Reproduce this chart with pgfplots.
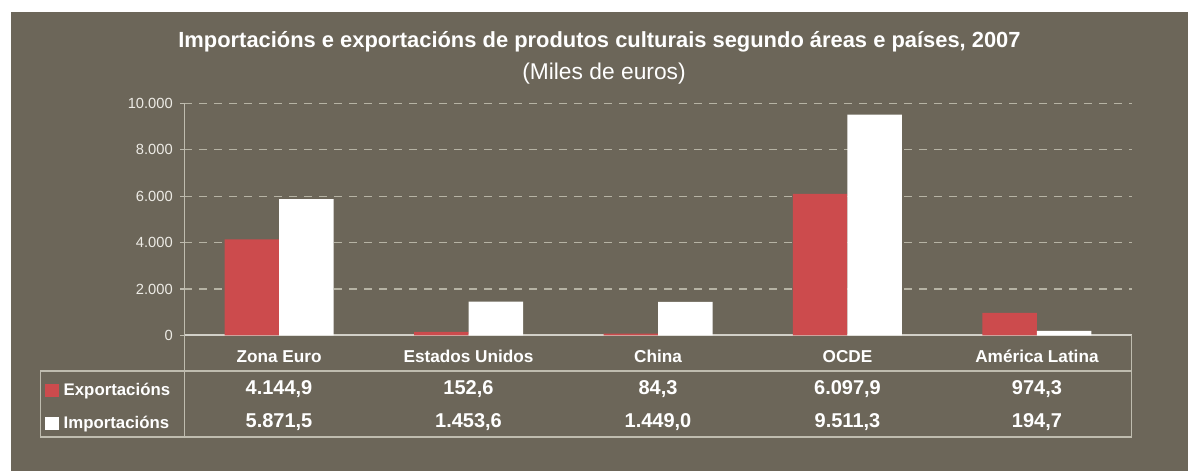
\documentclass[border=0pt]{standalone}
\usepackage{fontspec}
\setmainfont{Liberation Sans}
\usepackage{pgfplots}
\pgfplotsset{compat=1.18}
\definecolor{bg}{HTML}{6C6659}
\definecolor{expc}{HTML}{CC4B4D}
\definecolor{gridc}{HTML}{B6B3A4}
\definecolor{linec}{HTML}{BFBCAF}
\definecolor{axisc}{HTML}{D2D0C8}
\definecolor{tickc}{HTML}{EDEBE5}
\begin{document}
\begin{tikzpicture}[x=1pt,y=1pt]
\useasboundingbox (0,0) rectangle (1188,471);
\fill[white] (0,0) rectangle (1188,471);
\fill[bg] (11,0) rectangle (1188,459);
\node[anchor=base, text=white, font=\bfseries\fontsize{21.9}{26}\selectfont] at (599.5,423.5) {Importacións e exportacións de produtos culturais segundo áreas e países, 2007};
\node[anchor=base, text=white, font=\fontsize{22.8}{27}\selectfont] at (604,391.7) {(Miles de euros)};
\begin{axis}[
  at={(184.3pt,135.5pt)}, anchor=south west,
  scale only axis, width=947.4pt, height=232.2pt,
  xmin=0, xmax=5, ymin=0, ymax=10000,
  ybar=0pt, bar width=54.5pt,
  axis x line=bottom, axis y line=left,
  axis line style={-},
  x axis line style={axisc, line width=2pt},
  y axis line style={linec, line width=1.2pt},
  xtick={0.5,1.5,2.5,3.5,4.5},
  xticklabels={Zona Euro, Estados Unidos, China, OCDE, América Latina},
  xtick style={draw=none},
  xticklabel style={font=\bfseries\fontsize{17.2}{20}\selectfont, text=white, anchor=base, yshift=-23.5pt},
  ytick={0,2000,4000,6000,8000,10000},
  scaled y ticks=false,
  ytick style={linec, line width=1.2pt},
  tick align=outside, major tick length=4pt,
  yticklabel style={font=\fontsize{14.7}{17}\selectfont, text=tickc, xshift=-4pt, /pgf/number format/1000 sep={.}, /pgf/number format/assume math mode=true},
  ymajorgrids, major grid style={gridc, line width=1.2pt, dash pattern=on 8pt off 7pt},
  clip=false,
]
\addplot[fill=expc, draw=none] coordinates {(0.5,4144.9) (1.5,152.6) (2.5,84.3) (3.5,6097.9) (4.5,974.3)};
\addplot[fill=white, draw=none] coordinates {(0.5,5871.5) (1.5,1453.6) (2.5,1449.0) (3.5,9511.3) (4.5,194.7)};
\end{axis}
\begin{scope}[linec, line width=1.2pt]
\draw (40.3,100) -- (1131.7,100);
\draw (40.3,34) -- (1131.7,34);
\draw (40.3,100) -- (40.3,34);
\draw (184.3,135.5) -- (184.3,34);
\draw (1131.7,135.5) -- (1131.7,34);
\end{scope}
\begin{scope}[every node/.style={anchor=base, text=white, inner sep=0, font=\bfseries\fontsize{20}{24}\selectfont}]
\node at (279.0,76.7) {4.144,9};
\node at (468.5,76.7) {152,6};
\node at (658.0,76.7) {84,3};
\node at (847.5,76.7) {6.097,9};
\node at (1037.0,76.7) {974,3};
\node at (279.0,43.3) {5.871,5};
\node at (468.5,43.3) {1.453,6};
\node at (658.0,43.3) {1.449,0};
\node at (847.5,43.3) {9.511,3};
\node at (1037.0,43.3) {194,7};
\end{scope}
\begin{scope}[every node/.style={anchor=base west, text=white, inner sep=0, font=\bfseries\fontsize{16.8}{20}\selectfont}]
\node at (45,75.5) {\textcolor{expc}{\rule[-1.5pt]{14pt}{13pt}}\hspace{4.5pt}Exportacións};
\node at (45,42.5) {\textcolor{white}{\rule[-1.5pt]{14pt}{13pt}}\hspace{4.5pt}Importacións};
\end{scope}
\end{tikzpicture}
\end{document}
